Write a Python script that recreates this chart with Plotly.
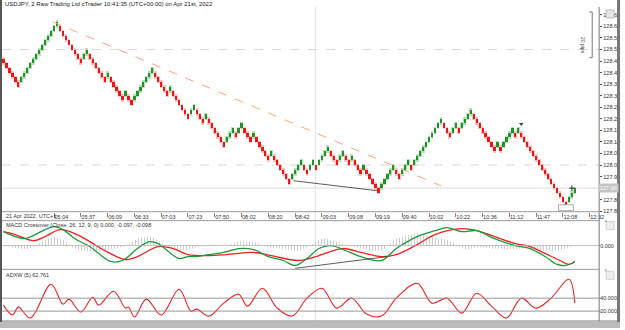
import plotly.graph_objects as go

# ---------------- data ----------------
TITLE = "USDJPY, 2 Raw Trading Ltd cTrader 10:41:35 (UTC+00:00) on Apr 21st, 2022"
DATE_LABEL = "21 Apr 2022, UTC+1"
TIME_LABELS = ["05:04", "05:37", "06:09", "06:33", "07:03", "07:23", "07:50", "08:02",
               "08:20", "08:42", "09:03", "09:08", "09:19", "09:40", "10:02", "10:22",
               "10:36", "11:12", "11:47", "12:08", "12:32"]
TIME_TICK_FIRST = 17
TIME_TICK_STEP = 9

BRICK_SIZE = 0.02
FIRST_BRICK_TOP = 128.46
# renko runs: negative = consecutive bearish bricks, positive = bullish bricks
BRICK_RUNS = [-6, 13, -8, 2, -6, 1, -5, 1, -2, 7,
              -5, 1, -6, 2, -3, 1, -6, 3, -1, 2, -3, 1, -5, 1, -6,
              4, -2, 2, -1, 4, -3, 2, -2, 1, -3, 1, -5,
              5, -2, 3, -1, 10,
              -3, 2, -1, 4,
              -8, 1, -1, 4, -1, 1,
              -16, 3]
PRICE_TICKS = [127.80, 127.85, 127.90, 127.95, 128.00, 128.05, 128.10, 128.15, 128.20,
               128.25, 128.30, 128.35, 128.40, 128.45, 128.50, 128.55, 128.60, 128.65]
ROUND_LEVELS = [128.50, 128.00]
LAST_PRICE = "127.90"

MACD_X = [0, 4, 7, 10, 14, 17, 20, 24, 29, 32, 36, 40, 45, 49, 52, 55, 59, 62, 65, 69,
          74, 79, 84, 89, 94, 98, 102, 106, 110, 115, 120, 127, 132, 139, 145, 149, 154,
          159, 165, 172, 177, 182, 186, 189, 192]
MACD_LINE = [0.085, 0.055, 0.042, 0.061, 0.097, 0.115, 0.097, 0.042, -0.006, -0.048,
             -0.097, -0.091, -0.018, 0.024, 0.012, -0.030, -0.079, -0.067, -0.067, -0.055,
             -0.042, -0.018, -0.024, -0.067, -0.091, -0.121, -0.079, -0.018, 0.0, -0.030,
             -0.067, -0.091, -0.018, 0.055, 0.091, 0.109, 0.085, 0.091, 0.042, 0.0,
             -0.018, -0.067, -0.115, -0.121, -0.097]
SIGNAL_X = [0, 4, 10, 14, 19, 24, 29, 34, 41, 45, 52, 57, 62, 69, 75, 84, 90, 99, 105,
            114, 120, 127, 132, 139, 145, 154, 159, 165, 172, 177, 182, 187, 190, 192]
SIGNAL_LINE = [0.085, 0.067, 0.030, 0.055, 0.097, 0.073, 0.024, -0.030, -0.085, -0.067,
               -0.006, -0.018, -0.055, -0.061, -0.055, -0.042, -0.061, -0.091, -0.067, -0.018,
               -0.042, -0.067, -0.055, 0.006, 0.067, 0.103, 0.091, 0.055, 0.012, -0.006,
               -0.048, -0.091, -0.115, -0.098]
HIST_X = [0, 4, 8, 11, 14, 17, 20, 24, 29, 33, 37, 41, 45, 49, 52, 56, 60, 65, 70, 75,
          80, 84, 89, 94, 99, 103, 107, 111, 116, 121, 127, 132, 139, 145, 150, 155, 160,
          166, 172, 177, 182, 187, 190, 192]
HIST_V = [0.0, -0.015, -0.02, 0.0, 0.035, 0.05, 0.035, -0.02, -0.035, -0.035, -0.02, 0.0,
          0.04, 0.055, 0.03, -0.015, -0.03, -0.01, 0.005, 0.0, 0.03, 0.02, -0.01, -0.02,
          -0.03, 0.0, 0.04, 0.03, 0.0, -0.02, -0.03, 0.04, 0.07, 0.05, 0.03, -0.02, -0.01,
          -0.02, -0.02, -0.02, -0.03, -0.03, -0.01, 0.0]
ADX_X = [0, 3, 5, 9, 16, 20, 22, 26, 30, 32, 37, 41, 42, 44, 48, 53, 59, 63, 65, 69,
         74, 79, 82, 87, 92, 97, 102, 107, 112, 117, 122, 127, 132, 139, 144, 149, 154,
         159, 164, 169, 174, 179, 184, 190, 192]
ADX_V = [29.2, 13.9, 26.2, 9.2, 61.5, 30.8, 38.5, 18.5, 41.5, 29.2, 50.8, 24.6, 26.2,
         10.8, 38.5, 13.9, 53.8, 20.0, 23.1, 12.3, 32.3, 46.2, 27.7, 55.4, 24.6, 12.3,
         40.0, 55.4, 24.6, 40.0, 15.4, 12.3, 40.0, 63.1, 32.3, 40.0, 16.9, 47.7, 27.7,
         9.2, 40.0, 24.6, 40.0, 69.2, 32.3]
ADX_LEVELS = [40, 20]

ORANGE_TREND = [(16.5, 128.62), (147.0, 127.91)]
SUPPORT_LINE = [(97.5, 127.932), (125.5, 127.889)]
MACD_TREND = [(98.0, -0.139), (129.0, -0.067)]
CROSSHAIR_X = 104.8
SIGNAL_MARK = (174, 128.178)

MACD_LABEL = "MACD Crossover (Close, 26, 12, 9, 0) 0.000, -0.097, -0.098"
ADX_LABEL = "ADXW (5) 62.761"

# ---------------- build bricks ----------------
bx, blo, bcol, bhalo = [], [], [], []
prev_lo = FIRST_BRICK_TOP
i = 0
for run in BRICK_RUNS:
    d = 1 if run > 0 else -1
    for _ in range(abs(run)):
        if i == 0 and d < 0:
            lo = round(FIRST_BRICK_TOP - BRICK_SIZE, 4)
        else:
            lo = round(prev_lo + d * BRICK_SIZE, 4)
        bx.append(i)
        blo.append(lo)
        bcol.append("#1c9526" if d > 0 else "#f41212")
        bhalo.append("#b6e0b6" if d > 0 else "#ffc0c0")
        prev_lo = lo
        i += 1
N = len(bx)

W, H = 625, 330
def px(x):
    return x / W
def py(y):
    return 1 - y / H

S = 3.0  # pixels per brick
XR = [(2 - 3.5) / S, (604 - 3.5) / S]
HALO = 0.006

FONT = "Liberation Sans"
fig = go.Figure()

fig.add_trace(go.Bar(x=bx, y=[BRICK_SIZE + 2 * HALO] * N, base=[b - HALO for b in blo],
                     marker=dict(color=bhalo, line=dict(width=0)),
                     width=0.95, xaxis="x", yaxis="y", showlegend=False, offsetgroup="a"))
fig.add_trace(go.Bar(x=bx, y=[BRICK_SIZE] * N, base=blo,
                     marker=dict(color=bcol, line=dict(width=0)),
                     width=0.75, xaxis="x", yaxis="y", showlegend=False, offsetgroup="a"))

fig.add_trace(go.Scatter(x=HIST_X, y=HIST_V, mode="lines", line=dict(width=0, shape="spline"),
                         fill="tozeroy", fillcolor="rgba(0,0,0,0)",
                         fillpattern=dict(shape="|", size=3, solidity=0.35, fgcolor="#9a9a9a", bgcolor="rgba(0,0,0,0)"),
                         xaxis="x2", yaxis="y2", showlegend=False))
fig.add_trace(go.Scatter(x=SIGNAL_X, y=SIGNAL_LINE, mode="lines", line=dict(color="#f42020", width=1.3, shape="spline"),
                         xaxis="x2", yaxis="y2", showlegend=False))
fig.add_trace(go.Scatter(x=MACD_X, y=MACD_LINE, mode="lines", line=dict(color="#1a9a3c", width=1.3, shape="spline"),
                         xaxis="x2", yaxis="y2", showlegend=False))
fig.add_trace(go.Scatter(x=[p[0] for p in MACD_TREND], y=[p[1] for p in MACD_TREND], mode="lines",
                         line=dict(color="#333333", width=0.8), xaxis="x2", yaxis="y2", showlegend=False))

fig.add_trace(go.Scatter(x=ADX_X, y=ADX_V, mode="lines", line=dict(color="#f42020", width=1.1, shape="spline"),
                         xaxis="x3", yaxis="y3", showlegend=False))

fig.add_trace(go.Scatter(x=[p[0] for p in ORANGE_TREND], y=[p[1] for p in ORANGE_TREND], mode="lines",
                         line=dict(color="#ffa27a", width=1, dash="dash"), xaxis="x", yaxis="y", showlegend=False))
fig.add_trace(go.Scatter(x=[p[0] for p in SUPPORT_LINE], y=[p[1] for p in SUPPORT_LINE], mode="lines",
                         line=dict(color="#333333", width=0.8), xaxis="x", yaxis="y", showlegend=False))
fig.add_trace(go.Scatter(x=[SIGNAL_MARK[0]], y=[SIGNAL_MARK[1]], mode="markers",
                         marker=dict(symbol="triangle-down", size=4, color="#444"),
                         xaxis="x", yaxis="y", showlegend=False))
fig.add_trace(go.Scatter(x=[bx[-1] - 1], y=[float(LAST_PRICE)], mode="markers",
                         marker=dict(symbol="cross-thin", size=4, line=dict(color="#333", width=1)),
                         xaxis="x", yaxis="y", showlegend=False))

tick_idx = [TIME_TICK_FIRST + TIME_TICK_STEP * k for k in range(len(TIME_LABELS))]
price_text = ["" if f"{v:.2f}" == LAST_PRICE else f"{v:.2f}" for v in PRICE_TICKS]

axis_common = dict(range=XR, showgrid=False, zeroline=False, fixedrange=True)
fig.update_layout(
    width=W, height=H, margin=dict(l=0, r=0, t=0, b=0),
    paper_bgcolor="white", plot_bgcolor="white", bargap=0, barmode="overlay",
    font=dict(family=FONT, size=6, color="#333"),
    xaxis=dict(domain=[px(2), px(604)], anchor="y", tickvals=tick_idx, ticktext=TIME_LABELS,
               ticks="outside", ticklen=4, tickcolor="#888", tickfont=dict(size=5.5, color="#333"),
               ticklabelposition="outside right", showline=False, **axis_common),
    xaxis2=dict(domain=[px(2), px(604)], anchor="y2", matches="x", showticklabels=False, **axis_common),
    xaxis3=dict(domain=[px(2), px(604)], anchor="y3", matches="x", showticklabels=False, **axis_common),
    yaxis=dict(domain=[py(213), py(7)], range=[127.798, 128.684], side="right", anchor="x",
               tickvals=PRICE_TICKS, ticktext=price_text,
               ticks="outside", ticklen=2, tickcolor="#555", tickfont=dict(size=5.5, color="#333"),
               showgrid=False, zeroline=False, fixedrange=True),
    yaxis2=dict(domain=[py(271), py(222)], range=[-0.145, 0.152], side="right", anchor="x2",
                tickvals=[0], ticktext=["0.000"], ticks="", tickfont=dict(size=5.5, color="#333"),
                showgrid=False, zeroline=False, fixedrange=True),
    yaxis3=dict(domain=[py(323), py(272)], range=[4.6, 83.1], side="right", anchor="x3",
                tickvals=ADX_LEVELS, ticktext=[f"{v:.3f}" for v in ADX_LEVELS], ticks="",
                tickfont=dict(size=5.5, color="#333"),
                showgrid=False, zeroline=False, fixedrange=True),
)

shapes = []
for lv in ROUND_LEVELS:
    shapes.append(dict(type="line", xref="paper", yref="y", x0=px(2), x1=px(604), y0=lv, y1=lv,
                       line=dict(color="#cfcfcf", width=0.8, dash="dash"), layer="below"))
shapes.append(dict(type="line", xref="paper", yref="y", x0=px(2), x1=px(604), y0=float(LAST_PRICE), y1=float(LAST_PRICE),
                   line=dict(color="#dddddd", width=1), layer="below"))
shapes.append(dict(type="line", xref="paper", yref="y2", x0=px(2), x1=px(606), y0=0, y1=0,
                   line=dict(color="#b0b0b0", width=0.8)))
for lv in ADX_LEVELS:
    shapes.append(dict(type="line", xref="paper", yref="y3", x0=px(2), x1=px(606), y0=lv, y1=lv,
                       line=dict(color="#8a8a8a", width=0.9)))
shapes.append(dict(type="line", xref="x", yref="paper", x0=CROSSHAIR_X, x1=CROSSHAIR_X, y0=py(323), y1=py(7),
                   line=dict(color="#e2e2e2", width=1), layer="below"))
for yy in [213, 222, 271]:
    shapes.append(dict(type="line", xref="paper", yref="paper", x0=px(2), x1=px(604), y0=py(yy), y1=py(yy),
                       line=dict(color="#9a9a9a", width=1)))
shapes.append(dict(type="line", xref="paper", yref="paper", x0=px(604), x1=px(604), y0=py(323), y1=py(7),
                   line=dict(color="#777", width=1)))
shapes.append(dict(type="line", xref="paper", yref="paper", x0=px(2), x1=px(622), y0=py(323), y1=py(323),
                   line=dict(color="#777", width=1)))
shapes.append(dict(type="rect", xref="paper", yref="paper", x0=0, x1=px(2), y0=0, y1=1,
                   line=dict(width=0), fillcolor="#555"))
shapes.append(dict(type="rect", xref="paper", yref="paper", x0=px(622), x1=1, y0=0, y1=1,
                   line=dict(width=0), fillcolor="#777"))
shapes.append(dict(type="rect", xref="paper", yref="paper", x0=0, x1=1, y0=0, y1=py(324),
                   line=dict(width=0), fillcolor="#bbbbbb"))
shapes.append(dict(type="line", xref="paper", yref="paper", x0=px(597), x1=px(597), y0=py(58), y1=py(12),
                   line=dict(color="#555", width=0.8)))
for yy in [12, 58]:
    shapes.append(dict(type="line", xref="paper", yref="paper", x0=px(594), x1=px(597), y0=py(yy), y1=py(yy),
                       line=dict(color="#555", width=0.8)))
for yy in [223, 273]:
    shapes.append(dict(type="rect", xref="paper", yref="paper", x0=px(611), x1=px(619), y0=py(yy + 8), y1=py(yy),
                       line=dict(color="#bbb", width=0.6), fillcolor="#eeeeee"))
shapes.append(dict(type="rect", xref="paper", yref="paper", x0=px(611), x1=px(619), y0=py(18), y1=py(10),
                   line=dict(color="#999", width=0.6), fillcolor="#e8e8e8"))
shapes.append(dict(type="rect", xref="paper", yref="paper", x0=px(563), x1=px(578), y0=py(212), y1=py(206),
                   line=dict(color="#888", width=0.7), fillcolor="white"))
fig.update_layout(shapes=shapes)

ann = [
    dict(text=TITLE, x=px(3), y=py(4.5), xref="paper", yref="paper", xanchor="left", yanchor="middle",
         showarrow=False, font=dict(size=6, color="#222")),
    dict(text=DATE_LABEL, x=px(4), y=py(217.5), xref="paper", yref="paper", xanchor="left", yanchor="middle",
         showarrow=False, font=dict(size=5.5, color="#333")),
    dict(text=MACD_LABEL, x=px(4), y=py(226.5), xref="paper", yref="paper", xanchor="left", yanchor="middle",
         showarrow=False, font=dict(size=5.5, color="#333")),
    dict(text=ADX_LABEL, x=px(4), y=py(276.5), xref="paper", yref="paper", xanchor="left", yanchor="middle",
         showarrow=False, font=dict(size=5.5, color="#333")),
    dict(text=LAST_PRICE, x=px(613), y=float(LAST_PRICE), xref="paper", yref="y", xanchor="center", yanchor="middle",
         showarrow=False, bgcolor="#c4c4c4", font=dict(size=5.5, color="white"), borderpad=1),
    dict(text="20 pips", x=px(592), y=py(35), xref="paper", yref="paper", textangle=90,
         showarrow=False, font=dict(size=5, color="#444")),
    dict(text="×", x=px(615), y=py(227), xref="paper", yref="paper", showarrow=False,
         font=dict(size=6, color="#999")),
    dict(text="×", x=px(615), y=py(277), xref="paper", yref="paper", showarrow=False,
         font=dict(size=6, color="#999")),
]
fig.update_layout(annotations=ann)

fig.write_html("out.html")
